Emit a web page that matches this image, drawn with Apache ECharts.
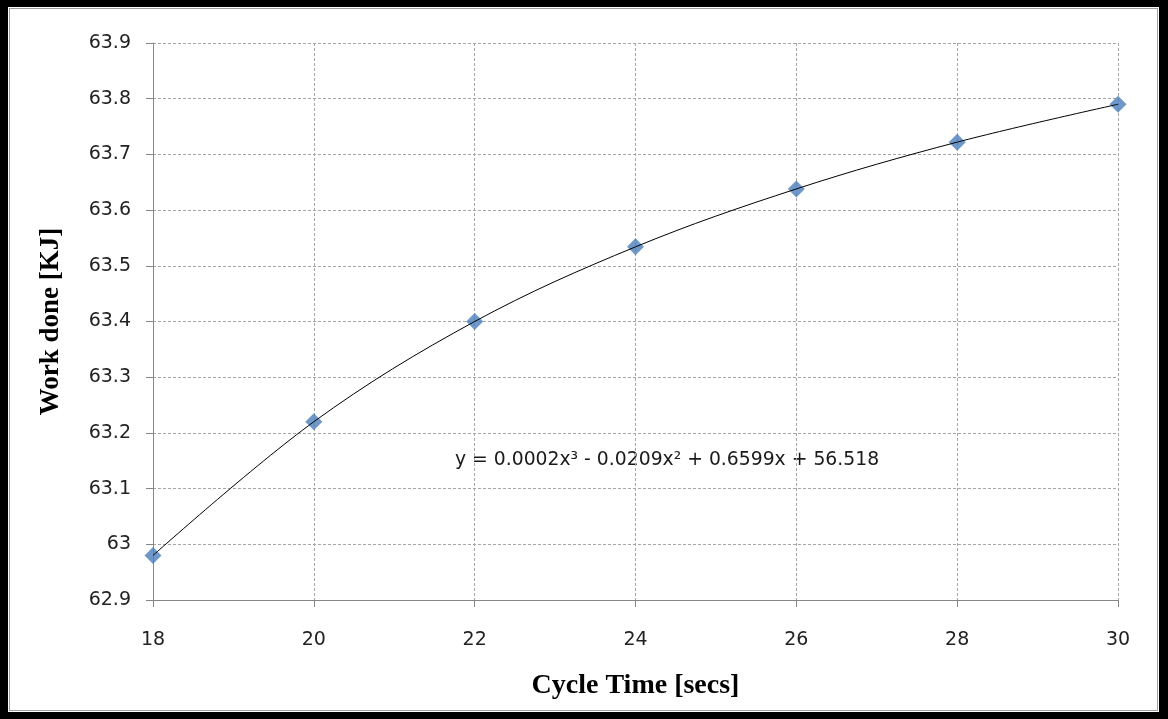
<!DOCTYPE html>
<html>
<head>
<meta charset="utf-8">
<script src="https://cdn.jsdelivr.net/npm/echarts@6/dist/echarts.min.js"></script>
<style>
html,body{margin:0;padding:0;background:#000;}
#frame{position:absolute;left:0;top:0;width:1168px;height:719px;background:#000;}
#inner{position:absolute;left:8px;top:7px;width:1151px;height:705px;background:#fff;}
#line{position:absolute;left:1px;top:1px;width:1147px;height:701px;border:1px solid #a0a0a0;}
#chart{position:absolute;left:0;top:0;width:1168px;height:719px;}
</style>
</head>
<body>
<div id="frame"><div id="inner"><div id="line"></div></div></div>
<div id="chart"></div>
<script>
const cycleTime = [18, 20, 22, 24, 26, 28, 30];
const workDone = [62.98, 63.22, 63.40, 63.534, 63.638, 63.722, 63.79];
const xTicks = [18, 20, 22, 24, 26, 28, 30];
const yTicks = [62.9, 63, 63.1, 63.2, 63.3, 63.4, 63.5, 63.6, 63.7, 63.8, 63.9];
const equationText = 'y = 0.0002x³ - 0.0209x² + 0.6599x + 56.518';

const pts = cycleTime.map((x, i) => [x, workDone[i]]);
const chart = echarts.init(document.getElementById('chart'));
chart.setOption({
  animation: false,
  backgroundColor: 'transparent',
  grid: {left: 153, right: 50, top: 43, bottom: 119},
  xAxis: {
    type: 'value', min: xTicks[0], max: xTicks[xTicks.length - 1], interval: 2,
    name: 'Cycle Time [secs]', nameLocation: 'middle', nameGap: 72,
    nameTextStyle: {fontFamily: 'Liberation Serif', fontWeight: 'bold', fontSize: 28, color: '#000'},
    axisLine: {show: true, lineStyle: {color: '#868686', width: 1}},
    axisTick: {show: true, inside: false, length: 7, lineStyle: {color: '#868686'}},
    axisLabel: {fontFamily: 'DejaVu Sans', fontSize: 19, color: '#222', margin: 31},
    splitLine: {show: true, lineStyle: {color: '#a6a6a6', type: [3, 2], width: 1}}
  },
  yAxis: {
    type: 'value', min: yTicks[0], max: yTicks[yTicks.length - 1], interval: 0.1,
    name: 'Work done [KJ]', nameLocation: 'middle', nameGap: 88, nameRotate: 90,
    nameTextStyle: {fontFamily: 'Liberation Serif', fontWeight: 'bold', fontSize: 27, color: '#000'},
    axisLine: {show: true, lineStyle: {color: '#868686', width: 1}},
    axisTick: {show: true, inside: false, length: 7, lineStyle: {color: '#868686'}},
    axisLabel: {fontFamily: 'DejaVu Sans', fontSize: 19, color: '#222', margin: 22,
      formatter: v => String(Math.round(v * 10) / 10)},
    splitLine: {show: true, lineStyle: {color: '#a6a6a6', type: [3, 2], width: 1}}
  },
  series: [
    {
      type: 'scatter', data: pts, symbol: 'diamond', symbolSize: 17,
      itemStyle: {color: '#4A7EBB'}, z: 2
    },
    {
      type: 'line', data: pts, smooth: 0.35, showSymbol: false, symbol: 'none',
      lineStyle: {color: '#000', width: 1}, z: 3
    }
  ],
  graphic: [{
    type: 'text', left: 455, top: 451,
    style: {text: equationText, fontFamily: 'DejaVu Sans', fontSize: 18.8, fill: '#1a1a1a'}
  }]
});
</script>
</body>
</html>
